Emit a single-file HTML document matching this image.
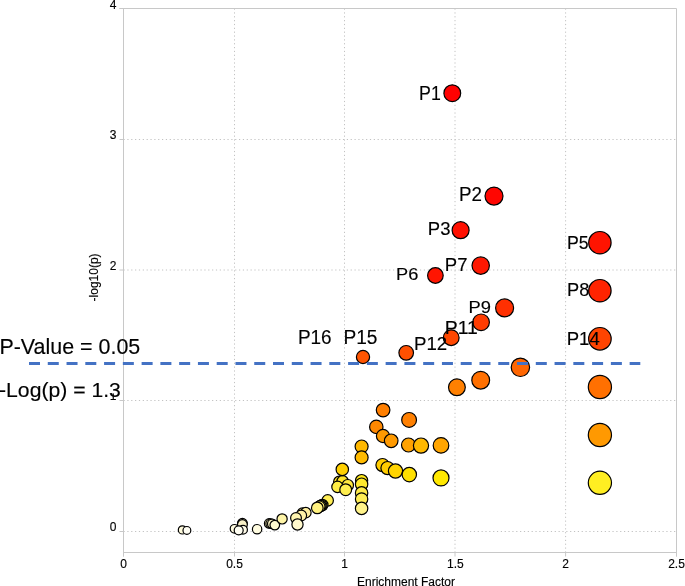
<!DOCTYPE html>
<html><head><meta charset="utf-8"><style>
html,body{margin:0;padding:0;background:#fff;width:685px;height:586px;overflow:hidden}
text{font-family:"Liberation Sans",sans-serif;stroke:#000;stroke-width:0.15px}
#w{will-change:transform;opacity:0.999}
</style></head><body><div id="w">
<svg width="685" height="586" viewBox="0 0 685 586" style="display:block">
<line x1="234.5" y1="8.5" x2="234.5" y2="552.5" stroke="#C2C2C2" stroke-width="1" stroke-dasharray="1.2 2.65"/>
<line x1="344.5" y1="8.5" x2="344.5" y2="552.5" stroke="#C2C2C2" stroke-width="1" stroke-dasharray="1.2 2.65"/>
<line x1="455.0" y1="8.5" x2="455.0" y2="552.5" stroke="#C2C2C2" stroke-width="1" stroke-dasharray="1.2 2.65"/>
<line x1="565.6" y1="8.5" x2="565.6" y2="552.5" stroke="#C2C2C2" stroke-width="1" stroke-dasharray="1.2 2.65"/>
<line x1="123.5" y1="531.5" x2="676.5" y2="531.5" stroke="#C2C2C2" stroke-width="1" stroke-dasharray="1.2 2.65"/>
<line x1="123.5" y1="400.5" x2="676.5" y2="400.5" stroke="#C2C2C2" stroke-width="1" stroke-dasharray="1.2 2.65"/>
<line x1="123.5" y1="270.0" x2="676.5" y2="270.0" stroke="#C2C2C2" stroke-width="1" stroke-dasharray="1.2 2.65"/>
<line x1="123.5" y1="139.5" x2="676.5" y2="139.5" stroke="#C2C2C2" stroke-width="1" stroke-dasharray="1.2 2.65"/>
<line x1="119.5" y1="8.5" x2="676.5" y2="8.5" stroke="#C8C8C8" stroke-width="1"/>
<line x1="676.5" y1="8.5" x2="676.5" y2="556.5" stroke="#C8C8C8" stroke-width="1"/>
<line x1="123.5" y1="8.5" x2="123.5" y2="556.5" stroke="#C8C8C8" stroke-width="1"/>
<line x1="123.5" y1="552.5" x2="676.5" y2="552.5" stroke="#C8C8C8" stroke-width="1"/>
<line x1="119.5" y1="531.5" x2="123.5" y2="531.5" stroke="#C8C8C8" stroke-width="1"/>
<line x1="119.5" y1="400.5" x2="123.5" y2="400.5" stroke="#C8C8C8" stroke-width="1"/>
<line x1="119.5" y1="270.0" x2="123.5" y2="270.0" stroke="#C8C8C8" stroke-width="1"/>
<line x1="119.5" y1="139.5" x2="123.5" y2="139.5" stroke="#C8C8C8" stroke-width="1"/>
<line x1="119.5" y1="8.5" x2="123.5" y2="8.5" stroke="#C8C8C8" stroke-width="1"/>
<line x1="123.5" y1="552.5" x2="123.5" y2="556.5" stroke="#C8C8C8" stroke-width="1"/>
<line x1="234.5" y1="552.5" x2="234.5" y2="556.5" stroke="#C8C8C8" stroke-width="1"/>
<line x1="344.5" y1="552.5" x2="344.5" y2="556.5" stroke="#C8C8C8" stroke-width="1"/>
<line x1="455.0" y1="552.5" x2="455.0" y2="556.5" stroke="#C8C8C8" stroke-width="1"/>
<line x1="565.6" y1="552.5" x2="565.6" y2="556.5" stroke="#C8C8C8" stroke-width="1"/>
<line x1="676.5" y1="552.5" x2="676.5" y2="556.5" stroke="#C8C8C8" stroke-width="1"/>
<text x="116.5" y="530.5" font-size="12" text-anchor="end" fill="#000">0</text>
<text x="116.5" y="400.2" font-size="12" text-anchor="end" fill="#000">1</text>
<text x="116.5" y="269.9" font-size="12" text-anchor="end" fill="#000">2</text>
<text x="116.5" y="139.0" font-size="12" text-anchor="end" fill="#000">3</text>
<text x="116.5" y="8.6" font-size="12" text-anchor="end" fill="#000">4</text>
<text x="123.5" y="568.3" font-size="12" text-anchor="middle" fill="#000">0</text>
<text x="234.5" y="568.3" font-size="12" text-anchor="middle" fill="#000">0.5</text>
<text x="344.5" y="568.3" font-size="12" text-anchor="middle" fill="#000">1</text>
<text x="455.3" y="568.3" font-size="12" text-anchor="middle" fill="#000">1.5</text>
<text x="565.6" y="568.3" font-size="12" text-anchor="middle" fill="#000">2</text>
<text x="676.5" y="568.3" font-size="12" text-anchor="middle" fill="#000">2.5</text>
<text x="406" y="585.5" font-size="12" text-anchor="middle" fill="#000">Enrichment Factor</text>
<text transform="translate(97.7,277.4) rotate(-90)" font-size="12" text-anchor="middle" fill="#000">-log10(p)</text>
<circle cx="182.4" cy="529.9" r="4.10" fill="#FFFBDC" stroke="#000" stroke-width="1.2"/>
<circle cx="186.9" cy="530.4" r="3.90" fill="#FFFEF4" stroke="#000" stroke-width="1.2"/>
<circle cx="242.4" cy="523.3" r="4.90" fill="#F6EEC4" stroke="#000" stroke-width="1.2"/>
<circle cx="242.4" cy="524.6" r="4.90" fill="#F8F0C8" stroke="#000" stroke-width="1.2"/>
<circle cx="234.5" cy="528.8" r="4.30" fill="#FFFBDF" stroke="#000" stroke-width="1.2"/>
<circle cx="243.0" cy="529.8" r="4.40" fill="#FFFBE8" stroke="#000" stroke-width="1.2"/>
<circle cx="238.7" cy="530.3" r="4.50" fill="#FFFEF2" stroke="#000" stroke-width="1.2"/>
<circle cx="257.1" cy="529.2" r="4.70" fill="#FFFCE0" stroke="#000" stroke-width="1.2"/>
<circle cx="269.1" cy="523.4" r="4.70" fill="#FAF0B8" stroke="#000" stroke-width="1.2"/>
<circle cx="270.6" cy="523.6" r="4.70" fill="#FAF0B8" stroke="#000" stroke-width="1.2"/>
<circle cx="272.2" cy="523.8" r="4.70" fill="#FAF2C0" stroke="#000" stroke-width="1.2"/>
<circle cx="274.8" cy="525.1" r="4.80" fill="#FFFAD0" stroke="#000" stroke-width="1.2"/>
<circle cx="282.1" cy="518.9" r="5.10" fill="#FFF5A8" stroke="#000" stroke-width="1.2"/>
<circle cx="302.5" cy="513.2" r="5.30" fill="#FFF0A0" stroke="#000" stroke-width="1.2"/>
<circle cx="305.8" cy="512.7" r="5.30" fill="#FFF0A0" stroke="#000" stroke-width="1.2"/>
<circle cx="301.2" cy="515.5" r="5.40" fill="#FFF2A8" stroke="#000" stroke-width="1.2"/>
<circle cx="296.0" cy="518.0" r="5.40" fill="#FFF5B0" stroke="#000" stroke-width="1.2"/>
<circle cx="297.5" cy="524.5" r="5.60" fill="#FFF8CC" stroke="#000" stroke-width="1.2"/>
<circle cx="327.7" cy="500.4" r="5.70" fill="#FFEE55" stroke="#000" stroke-width="1.2"/>
<circle cx="322.4" cy="505.0" r="5.60" fill="#FFEE70" stroke="#000" stroke-width="1.2"/>
<circle cx="321.4" cy="505.5" r="5.60" fill="#FFEE70" stroke="#000" stroke-width="1.2"/>
<circle cx="320.4" cy="506.0" r="5.60" fill="#FFEE70" stroke="#000" stroke-width="1.2"/>
<circle cx="319.4" cy="506.6" r="5.60" fill="#FFEE70" stroke="#000" stroke-width="1.2"/>
<circle cx="317.3" cy="507.9" r="5.80" fill="#FFF180" stroke="#000" stroke-width="1.2"/>
<circle cx="339.3" cy="481.8" r="5.70" fill="#FFE52A" stroke="#000" stroke-width="1.2"/>
<circle cx="342.6" cy="481.3" r="5.70" fill="#FFE52A" stroke="#000" stroke-width="1.2"/>
<circle cx="342.3" cy="469.4" r="6.20" fill="#FFD000" stroke="#000" stroke-width="1.2"/>
<circle cx="347.8" cy="485.2" r="5.70" fill="#FFE840" stroke="#000" stroke-width="1.2"/>
<circle cx="337.5" cy="486.9" r="5.70" fill="#FFEE44" stroke="#000" stroke-width="1.2"/>
<circle cx="345.7" cy="489.7" r="5.90" fill="#FFEE50" stroke="#000" stroke-width="1.2"/>
<circle cx="361.6" cy="446.5" r="6.50" fill="#FFB800" stroke="#000" stroke-width="1.2"/>
<circle cx="361.6" cy="457.4" r="6.50" fill="#FFBB00" stroke="#000" stroke-width="1.2"/>
<circle cx="361.6" cy="480.6" r="6.10" fill="#FFE81A" stroke="#000" stroke-width="1.2"/>
<circle cx="361.6" cy="484.2" r="6.20" fill="#FFE92E" stroke="#000" stroke-width="1.2"/>
<circle cx="361.6" cy="492.9" r="6.20" fill="#FFEC4A" stroke="#000" stroke-width="1.2"/>
<circle cx="361.6" cy="499.0" r="6.20" fill="#FFEE55" stroke="#000" stroke-width="1.2"/>
<circle cx="361.6" cy="508.4" r="6.20" fill="#FFF38A" stroke="#000" stroke-width="1.2"/>
<circle cx="382.5" cy="465.1" r="6.60" fill="#FFCC00" stroke="#000" stroke-width="1.2"/>
<circle cx="387.5" cy="468.1" r="6.60" fill="#FFCC00" stroke="#000" stroke-width="1.2"/>
<circle cx="395.5" cy="471.0" r="7.10" fill="#FFD400" stroke="#000" stroke-width="1.2"/>
<circle cx="409.3" cy="474.6" r="7.20" fill="#FFE000" stroke="#000" stroke-width="1.2"/>
<circle cx="441.0" cy="477.9" r="8.00" fill="#FFE800" stroke="#000" stroke-width="1.2"/>
<circle cx="383.1" cy="410.1" r="6.80" fill="#FF7F00" stroke="#000" stroke-width="1.2"/>
<circle cx="409.1" cy="419.9" r="7.40" fill="#FF8000" stroke="#000" stroke-width="1.2"/>
<circle cx="376.3" cy="426.9" r="6.70" fill="#FF8800" stroke="#000" stroke-width="1.2"/>
<circle cx="383.0" cy="436.0" r="6.60" fill="#FF9900" stroke="#000" stroke-width="1.2"/>
<circle cx="391.2" cy="440.8" r="6.80" fill="#FF9A00" stroke="#000" stroke-width="1.2"/>
<circle cx="408.5" cy="445.0" r="7.00" fill="#FFA200" stroke="#000" stroke-width="1.2"/>
<circle cx="421.0" cy="445.6" r="7.60" fill="#FFB800" stroke="#000" stroke-width="1.2"/>
<circle cx="441.0" cy="445.4" r="7.80" fill="#FFA500" stroke="#000" stroke-width="1.2"/>
<circle cx="456.9" cy="387.3" r="8.40" fill="#FF8000" stroke="#000" stroke-width="1.2"/>
<circle cx="480.7" cy="380.2" r="8.90" fill="#FF7000" stroke="#000" stroke-width="1.2"/>
<circle cx="520.4" cy="367.3" r="9.20" fill="#FF6600" stroke="#000" stroke-width="1.2"/>
<circle cx="599.9" cy="387.0" r="11.60" fill="#FF7000" stroke="#000" stroke-width="1.2"/>
<circle cx="599.9" cy="435.0" r="11.60" fill="#FF9900" stroke="#000" stroke-width="1.2"/>
<circle cx="599.9" cy="482.8" r="11.60" fill="#FFEE22" stroke="#000" stroke-width="1.2"/>
<circle cx="363.0" cy="357.0" r="6.60" fill="#FF5500" stroke="#000" stroke-width="1.2"/>
<circle cx="406.2" cy="352.8" r="7.30" fill="#FF5000" stroke="#000" stroke-width="1.2"/>
<circle cx="451.2" cy="337.7" r="7.90" fill="#FF4800" stroke="#000" stroke-width="1.2"/>
<circle cx="481.1" cy="322.3" r="8.30" fill="#FF3C00" stroke="#000" stroke-width="1.2"/>
<circle cx="504.6" cy="307.9" r="9.00" fill="#FF3000" stroke="#000" stroke-width="1.2"/>
<circle cx="599.9" cy="338.8" r="11.30" fill="#FF4400" stroke="#000" stroke-width="1.2"/>
<circle cx="599.9" cy="290.7" r="11.20" fill="#FF2400" stroke="#000" stroke-width="1.2"/>
<circle cx="599.9" cy="242.7" r="11.20" fill="#FF1400" stroke="#000" stroke-width="1.2"/>
<circle cx="435.4" cy="275.5" r="7.80" fill="#FF1500" stroke="#000" stroke-width="1.2"/>
<circle cx="480.7" cy="265.6" r="8.70" fill="#FF1800" stroke="#000" stroke-width="1.2"/>
<circle cx="460.6" cy="230.2" r="8.50" fill="#FF1000" stroke="#000" stroke-width="1.2"/>
<circle cx="494.0" cy="196.1" r="9.00" fill="#FF0600" stroke="#000" stroke-width="1.2"/>
<circle cx="452.3" cy="93.2" r="8.40" fill="#FF0000" stroke="#000" stroke-width="1.2"/>
<line x1="29" y1="363.5" x2="640.3" y2="363.5" stroke="#4472C4" stroke-width="2.9" stroke-dasharray="11 7.77"/>
<rect x="0" y="372" width="121.5" height="21.4" fill="#fff"/>
<text transform="translate(419.04,99.60) scale(0.8847,1)" font-size="20.07" fill="#000" stroke="#000" stroke-width="0.25">P1</text>
<text transform="translate(458.95,200.70) scale(0.9717,1)" font-size="19.35" fill="#000" stroke="#000" stroke-width="0.25">P2</text>
<text transform="translate(427.87,235.32) scale(1.0224,1)" font-size="18.09" fill="#000" stroke="#000" stroke-width="0.25">P3</text>
<text transform="translate(444.87,270.90) scale(0.9726,1)" font-size="19.05" fill="#000" stroke="#000" stroke-width="0.25">P7</text>
<text transform="translate(396.10,280.33) scale(1.0926,1)" font-size="16.68" fill="#000" stroke="#000" stroke-width="0.25">P6</text>
<text transform="translate(567.04,248.51) scale(0.9297,1)" font-size="19.07" fill="#000" stroke="#000" stroke-width="0.25">P5</text>
<text transform="translate(567.00,296.12) scale(0.9995,1)" font-size="18.23" fill="#000" stroke="#000" stroke-width="0.25">P8</text>
<text transform="translate(468.59,313.14) scale(1.1392,1)" font-size="16.11" fill="#000" stroke="#000" stroke-width="0.25">P9</text>
<text transform="translate(444.70,333.80) scale(1.0859,1)" font-size="17.89" fill="#000" stroke="#000" stroke-width="0.25">P11</text>
<text transform="translate(414.06,349.60) scale(0.9861,1)" font-size="18.92" fill="#000" stroke="#000" stroke-width="0.25">P12</text>
<text transform="translate(566.67,344.60) scale(1.0064,1)" font-size="18.47" fill="#000" stroke="#000" stroke-width="0.25">P14</text>
<text transform="translate(297.94,344.10) scale(0.9641,1)" font-size="19.65" fill="#000" stroke="#000" stroke-width="0.25">P16</text>
<text transform="translate(343.42,344.10) scale(0.9611,1)" font-size="19.93" fill="#000" stroke="#000" stroke-width="0.25">P15</text>
<text transform="translate(-0.57,354.39) scale(1.0046,1)" font-size="21.36" fill="#000" stroke="#000" stroke-width="0.25">P-Value = 0.05</text>
<text transform="translate(-0.95,396.73) scale(1.0288,1)" font-size="20.59" fill="#000" stroke="#000" stroke-width="0.25">-Log(p) = 1.3</text>
</svg>
</div></body></html>
